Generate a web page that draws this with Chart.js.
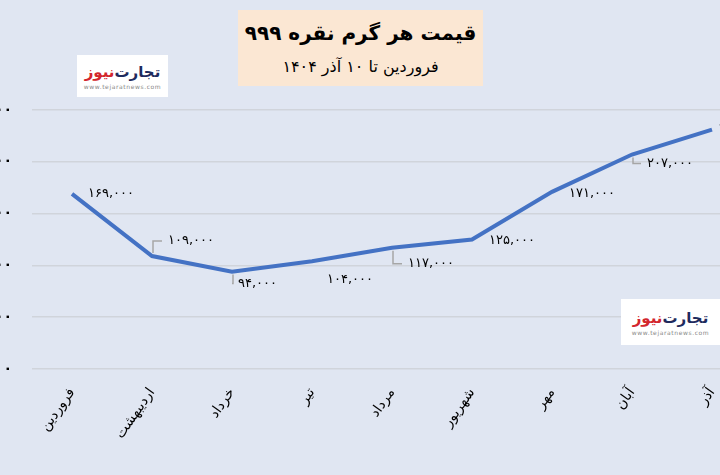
<!DOCTYPE html>
<html lang="fa">
<head>
<meta charset="utf-8">
<script src="https://cdn.jsdelivr.net/npm/chart.js@4.4.1/dist/chart.umd.min.js"></script>
<style>
  html, body { margin: 0; padding: 0; }
  body { width: 720px; height: 475px; overflow: hidden; position: relative; background: #e0e6f2; font-family: 'DejaVu Sans', sans-serif; }
  #wrap { position: absolute; left: -60px; top: 0; width: 840px; height: 475px; }
  .titlebox { position: absolute; left: 238px; top: 10px; width: 245px; height: 76px; background: #fbe7d3; text-align: center; direction: rtl; color: #000; white-space: nowrap; }
  .titlebox .t1 { font-size: 20px; font-weight: bold; margin-top: 9px; line-height: 28px; }
  .titlebox .t2 { font-size: 16px; margin-top: 9px; line-height: 22px; }
  .logo { position: absolute; background: #fff; text-align: center; }
  .logo .name { direction: rtl; font-weight: bold; font-size: 15px; line-height: 22px; margin-top: 6px; white-space: nowrap; }
  .logo .name span { display: inline-block; }
  .logo .name .a { color: #1f2b5e; }
  .logo .name .b { color: #d3262d; }
  .logo .url { font-size: 6px; color: #888; letter-spacing: 0.6px; line-height: 8px; }
</style>
</head>
<body>
<div id="wrap"><canvas id="silverChart" width="840" height="475"></canvas></div>

<div class="titlebox">
  <div class="t1">قیمت هر گرم نقره ۹۹۹</div>
  <div class="t2">فروردین تا ۱۰ آذر ۱۴۰۴</div>
</div>

<div class="logo" style="left:77px;top:55px;width:91px;height:42px;">
  <div class="name"><span class="a">تجارت</span><span class="b">نیوز</span></div>
  <div class="url">www.tejaratnews.com</div>
</div>
<div class="logo" style="left:621px;top:299px;width:99px;height:46px;">
  <div class="name" style="margin-top:8px;"><span class="a">تجارت</span><span class="b">نیوز</span></div>
  <div class="url">www.tejaratnews.com</div>
</div>

<script>
const months = ['فروردین', 'اردیبهشت', 'خرداد', 'تیر', 'مرداد', 'شهریور', 'مهر', 'آبان', 'آذر'];
const prices = [169000, 109000, 94000, 104000, 117000, 125000, 171000, 207000, 231000];
const yTicks = [0, 50000, 100000, 150000, 200000, 250000];

// where each value label sits relative to its point, and whether it gets a leader line
const labelPlacement = [
    { dx: 16, dy: 0, leader: false },
    { dx: 16, dy: -15, leader: true },
    { dx: 6, dy: 12, leader: true },
    { dx: 15, dy: 18, leader: false },
    { dx: 16, dy: 16, leader: true },
    { dx: 17, dy: 1, leader: false },
    { dx: 17, dy: 2, leader: false },
    { dx: 15, dy: 9, leader: true },
    { dx: 7, dy: 0, leader: false }
];

const faDigits = '۰۱۲۳۴۵۶۷۸۹';
function toFa(n) {
    return n.toLocaleString('en-US').replace(/\d/g, d => faDigits[d]);
}

const valueLabels = {
    id: 'valueLabels',
    afterDatasetsDraw(chart) {
        const c = chart.ctx;
        const pts = chart.getDatasetMeta(0).data;
        c.save();
        c.font = '13px "DejaVu Sans"';
        c.textAlign = 'left';
        c.textBaseline = 'middle';
        pts.forEach((p, i) => {
            const pl = labelPlacement[i];
            const tx = p.x + pl.dx;
            const ty = p.y + pl.dy;
            if (pl.leader) {
                const sgn = pl.dy > 0 ? 1 : -1;
                c.strokeStyle = '#a6a6a6';
                c.lineWidth = 1.5;
                c.beginPath();
                c.moveTo(p.x + 1, p.y + sgn * 3);
                c.lineTo(p.x + 1, ty);
                c.lineTo(tx - 6, ty);
                c.stroke();
            }
            c.fillStyle = '#000';
            c.fillText(toFa(prices[i]), tx, ty);
        });
        c.restore();
    }
};

const ctx = document.getElementById('silverChart').getContext('2d');
const silverChart = new Chart(ctx, {
    type: 'line',
    data: {
        labels: months,
        datasets: [{
            data: prices,
            borderColor: '#4472c4',
            borderWidth: 4,
            pointRadius: 0,
            tension: 0,
            fill: false
        }]
    },
    options: {
        responsive: false,
        animation: false,
        layout: { padding: { top: 110, right: 28, bottom: 0, left: 0 } },
        plugins: {
            legend: { display: false },
            tooltip: { enabled: false }
        },
        scales: {
            x: {
                offset: true,
                grid: { display: false },
                border: { display: false },
                ticks: {
                    color: '#000',
                    font: { family: 'DejaVu Sans', size: 14 },
                    maxRotation: 55,
                    minRotation: 55,
                    autoSkip: false,
                    padding: 8,
                    labelOffset: 0
                },
                afterFit(scale) { scale.height = 106; }
            },
            y: {
                min: 0,
                max: 250000,
                afterBuildTicks(scale) { scale.ticks = yTicks.map(v => ({ value: v })); },
                grid: { color: '#d0d4db', lineWidth: 1.5, drawTicks: false },
                border: { display: false },
                ticks: {
                    color: '#000',
                    padding: 20,
                    font: { family: 'DejaVu Sans', size: 14, weight: 'bold' },
                    callback: v => toFa(v)
                },
                afterFit(scale) { scale.width = 92; }
            }
        }
    },
    plugins: [valueLabels]
});
</script>
</body>
</html>
